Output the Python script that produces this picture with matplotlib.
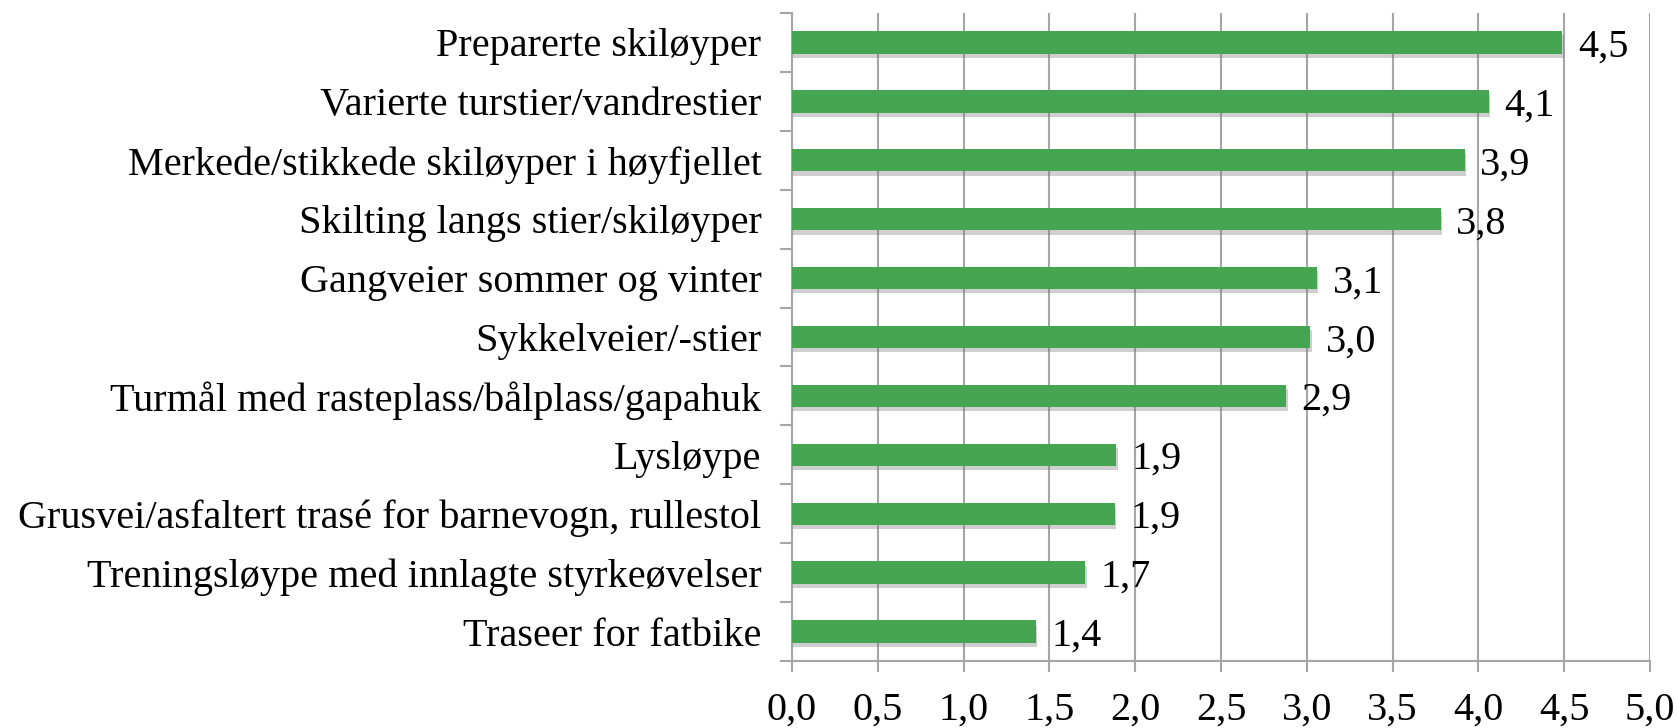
import matplotlib
matplotlib.use('Agg')
import matplotlib.pyplot as plt
import matplotlib.patheffects as pe
import numpy as np

# Data
kategorier = ['Preparerte skiløyper', 'Varierte turstier/vandrestier',
              'Merkede/stikkede skiløyper i høyfjellet', 'Skilting langs stier/skiløyper',
              'Gangveier sommer og vinter', 'Sykkelveier/-stier',
              'Turmål med rasteplass/bålplass/gapahuk', 'Lysløype',
              'Grusvei/asfaltert trasé for barnevogn, rullestol',
              'Treningsløype med innlagte styrkeøvelser', 'Traseer for fatbike']
verdier = [4.49, 4.06, 3.92, 3.78, 3.06, 3.02, 2.88, 1.89, 1.88, 1.71, 1.42]
x_ticks = [0.0, 0.5, 1.0, 1.5, 2.0, 2.5, 3.0, 3.5, 4.0, 4.5, 5.0]

plt.rcParams['font.family'] = ['Liberation Serif', 'DejaVu Serif']
grey = '#a6a6a6'
green = '#46a550'

fig = plt.figure(figsize=(16.77, 7.28), dpi=100)
ax = fig.add_axes([792 / 1677, 67 / 728, 858 / 1677, 648 / 728])

n = len(kategorier)
y = np.arange(n)[::-1]
bars = ax.barh(y, verdier, height=0.38, color=green, zorder=3)
for b in bars:
    b.set_path_effects([pe.SimplePatchShadow(offset=(1, -3), shadow_rgbFace='#777777', alpha=0.35),
                        pe.Normal()])

for yi, v in zip(y, verdier):
    ax.text(v + 0.09, yi - 0.08, f'{v:.1f}'.replace('.', ','), va='center', ha='left', fontsize=29)

ax.set_xlim(0, 5)
ax.set_ylim(-0.5, n - 0.5)
ax.set_xticks(x_ticks)
ax.set_xticklabels([f'{t:.1f}'.replace('.', ',') for t in x_ticks], fontsize=29)
ax.set_yticks(y)
ax.set_yticklabels(kategorier, fontsize=29)
ax.set_yticks(np.arange(n + 1) - 0.5, minor=True)

ax.tick_params(axis='y', which='major', length=0, pad=22)
ax.tick_params(axis='y', which='minor', length=9, width=1.5, color=grey)
ax.tick_params(axis='x', length=8, width=1.5, color=grey, pad=14)

ax.grid(axis='x', color=grey, linewidth=1.5, zorder=0)
ax.set_axisbelow(True)
for s in ['top', 'right']:
    ax.spines[s].set_visible(False)
for s in ['left', 'bottom']:
    ax.spines[s].set_color(grey)
    ax.spines[s].set_linewidth(1.5)

fig.savefig('out.png', dpi=100)
